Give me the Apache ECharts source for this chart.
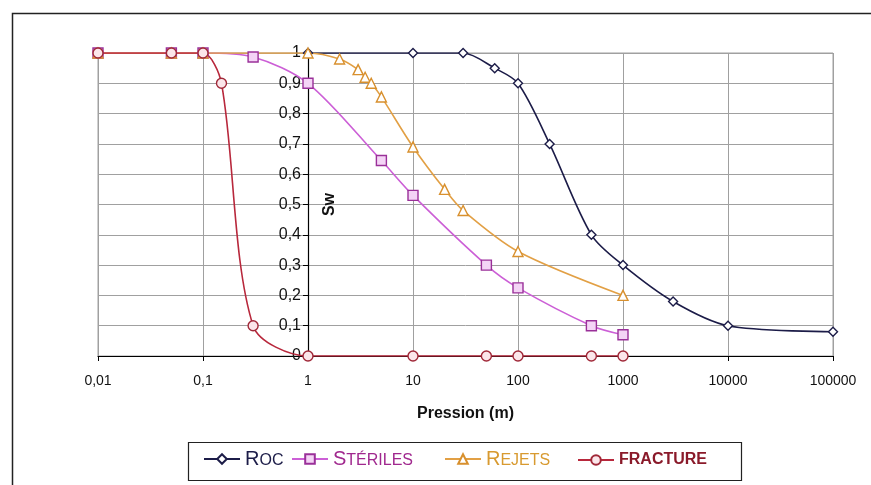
<!DOCTYPE html>
<html>
<head>
<meta charset="utf-8">
<script src="https://cdn.jsdelivr.net/npm/echarts@6/dist/echarts.min.js"></script>
<style>
html,body{margin:0;padding:0;background:#fff;}
#chart{width:871px;height:485px;}
</style>
</head>
<body>
<div id="chart"></div>
<script>
// ---- Data ----
const seriesNames = ['Roc', 'Stériles', 'Rejets', 'Fracture'];

const rocX = [1, 10, 30, 60, 100, 200, 500, 1000, 3000, 10000, 100000];
const rocY = [1, 1, 1, 0.95, 0.9, 0.7, 0.4, 0.3, 0.18, 0.1, 0.08];

const sterilesX = [0.01, 0.05, 0.1, 0.3, 1, 5, 10, 50, 100, 500, 1000];
const sterilesY = [1, 1, 1, 0.987, 0.9, 0.645, 0.53, 0.3, 0.225, 0.1, 0.07];

const rejetsX = [0.01, 0.05, 0.1, 1, 2, 3, 3.5, 4, 5, 10, 20, 30, 100, 1000];
const rejetsY = [1, 1, 1, 1, 0.98, 0.945, 0.92, 0.9, 0.855, 0.69, 0.55, 0.48, 0.345, 0.2];

const fractureX = [0.01, 0.05, 0.1, 0.15, 0.3, 1, 10, 50, 100, 500, 1000];
const fractureY = [1, 1, 1, 0.9, 0.1, 0, 0, 0, 0, 0, 0];

const xTickValues = [0.01, 0.1, 1, 10, 100, 1000, 10000, 100000];
const yTickValues = [0, 0.1, 0.2, 0.3, 0.4, 0.5, 0.6, 0.7, 0.8, 0.9, 1];

const xAxisTitle = 'Pression (m)';
const yAxisTitle = 'Sw';

// ---- Build ----
function pairs(xs, ys) { return xs.map((x, i) => [x, ys[i]]); }
function fmtNum(v) { return String(+(+v).toFixed(4)).replace('.', ','); }

const chart = echarts.init(document.getElementById('chart'), null, {renderer: 'canvas'});
const FONT = '"Liberation Sans", Arial, sans-serif';

const styles = {
  'Roc':      {line: '#1c1c48', border: '#1c1c48', fill: '#ffffff', symbol: 'diamond',  size: 9},
  'Stériles': {line: '#cc5fd6', border: '#9a3099', fill: '#f4d4f6', symbol: 'rect',     size: 10},
  'Rejets':   {line: '#e2a045', border: '#d8902e', fill: '#ffffff', symbol: 'triangle', size: 10},
  'Fracture': {line: '#b8283c', border: '#a02838', fill: '#fbe6ea', symbol: 'circle',   size: 10}
};
const legendText = {
  'Roc':      {color: '#1c1c48', f: '{b|R}{s|OC}', left: 203, top: 449},
  'Stériles': {color: '#a0288e', f: '{b|S}{s|TÉRILES}', left: 291, top: 449},
  'Rejets':   {color: '#d89a30', f: '{b|R}{s|EJETS}', left: 444, top: 449},
  'Fracture': {color: '#8a1a2a', f: '{s|FRACTURE}', left: 577, top: 452}
};
const dataMap = {
  'Roc': pairs(rocX, rocY),
  'Stériles': pairs(sterilesX, sterilesY),
  'Rejets': pairs(rejetsX, rejetsY),
  'Fracture': pairs(fractureX, fractureY)
};

const series = seriesNames.map(n => ({
  name: n,
  type: 'line',
  data: dataMap[n],
  smooth: 0.3,
  symbol: styles[n].symbol,
  symbolSize: styles[n].size,
  showAllSymbol: true,
  lineStyle: {color: styles[n].line, width: 1.6},
  itemStyle: {color: styles[n].fill, borderColor: styles[n].border, borderWidth: 1.4},
  emphasis: {disabled: true},
  animation: false
}));

const legends = seriesNames.map(n => ({
  data: [{name: n, textStyle: {color: legendText[n].color, fontWeight: n === 'Fracture' ? 'bold' : 'normal'}}],
  formatter: nm => legendText[nm].f,
  left: legendText[n].left,
  top: legendText[n].top,
  itemWidth: 36,
  itemHeight: 12,
  itemGap: 5,
  selectedMode: false,
  padding: 0,
  textStyle: {
    fontFamily: FONT,
    rich: {
      b: {fontSize: 20, lineHeight: 20, verticalAlign: 'bottom', fontFamily: FONT},
      s: {fontSize: 16, lineHeight: 16, verticalAlign: 'bottom', fontFamily: FONT}
    }
  }
}));

const option = {
  animation: false,
  backgroundColor: '#ffffff',
  textStyle: {fontFamily: FONT},
  grid: {
    left: 98, right: 38, top: 53, bottom: 129,
    show: true, borderColor: '#a0a0a0', borderWidth: 1,
    containLabel: false, outerBoundsMode: 'none'
  },
  xAxis: {
    type: 'log',
    logBase: 10,
    min: xTickValues[0],
    max: xTickValues[xTickValues.length - 1],
    name: xAxisTitle,
    nameLocation: 'middle',
    nameGap: 50,
    nameTextStyle: {fontFamily: FONT, fontWeight: 'bold', fontSize: 16, color: '#111'},
    axisLine: {show: true, lineStyle: {color: '#000', width: 1.2}},
    axisTick: {show: true, length: 5, lineStyle: {color: '#000'}},
    minorTick: {show: false},
    axisLabel: {fontFamily: FONT, fontSize: 14, color: '#111', margin: 18, formatter: v => fmtNum(v)},
    splitLine: {show: true, lineStyle: {color: '#a0a0a0', width: 1}}
  },
  yAxis: {
    type: 'value',
    min: yTickValues[0],
    max: yTickValues[yTickValues.length - 1],
    interval: 0.1,
    offset: -210,
    name: yAxisTitle,
    nameLocation: 'middle',
    nameRotate: 90,
    nameGap: -30,
    nameTextStyle: {fontFamily: FONT, fontWeight: 'bold', fontSize: 16, color: '#111'},
    axisLine: {show: true, lineStyle: {color: '#000', width: 1.2}},
    axisTick: {show: true, length: 5, lineStyle: {color: '#000'}},
    axisLabel: {fontFamily: FONT, fontSize: 16, color: '#111', margin: 7, formatter: v => fmtNum(v)},
    splitLine: {show: true, lineStyle: {color: '#a0a0a0', width: 1}}
  },
  legend: legends,
  graphic: [
    {type: 'rect', left: 10, top: 11, shape: {width: 880, height: 500},
     style: {fill: 'none', stroke: '#222', lineWidth: 1.5}, silent: true, z: 100},
    {type: 'rect', left: 186, top: 440, shape: {width: 553, height: 38},
     style: {fill: 'none', stroke: '#222', lineWidth: 1.2}, silent: true, z: 100}
  ],
  series: series
};
chart.setOption(option);
</script>
</body>
</html>
